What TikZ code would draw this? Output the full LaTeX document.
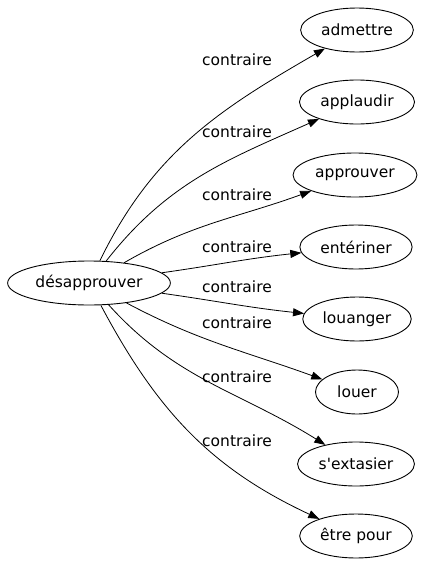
\documentclass[tikz,border=0pt]{standalone}
\usepackage{fontspec}
\setmainfont{DejaVu Sans}
\usepackage{tikz}
\usetikzlibrary{shapes.geometric, arrows.meta}

\begin{document}
\begin{tikzpicture}[x=1pt, y=-1pt,
    mot/.style={draw, ellipse, line width=0.9pt, inner xsep=4pt,
        minimum height=44pt, minimum width=83pt,
        font=\fontsize{15.5}{18}\selectfont},
    rel/.style={font=\fontsize{15.5}{18}\selectfont},
    lien/.style={draw, line width=0.8pt, -{Triangle[length=11pt, width=8pt]}}]
    \useasboundingbox (0,0) rectangle (429,563);
    \node[mot] (desapp) at (89,283) {désapprouver};
    \node[mot] (admettre) at (357,30) {admettre};
    \node[mot] (applaudir) at (357,102) {applaudir};
    \node[mot] (approuver) at (355,175) {approuver};
    \node[mot] (enteriner) at (356,247) {entériner};
    \node[mot] (louanger) at (357,319) {louanger};
    \node[mot] (louer) at (357,392) {louer};
    \node[mot] (extasier) at (356,464) {s\textquotesingle extasier};
    \node[mot] (etrepour) at (356,536) {être pour};
    \path[lien] (desapp) to[out=64, in=210] (admettre);
    \path[lien] (desapp) to[out=52, in=204] (applaudir);
    \path[lien] (desapp) to[out=30, in=200] (approuver);
    \path[lien] (desapp) to[out=8, in=186] (enteriner);
    \path[lien] (desapp) to[out=-8, in=174] (louanger);
    \path[lien] (desapp) to[out=-28, in=160] (louer);
    \path[lien] (desapp) to[out=-48, in=148] (extasier);
    \path[lien] (desapp) to[out=-62, in=155] (etrepour);
    \node[rel] (r1) at (237,60) {contraire};
    \node[rel] (r2) at (237,132) {contraire};
    \node[rel] (r3) at (237,195) {contraire};
    \node[rel] (r4) at (237,247) {contraire};
    \node[rel] (r5) at (237,287) {contraire};
    \node[rel] (r6) at (237,323) {contraire};
    \node[rel] (r7) at (237,377) {contraire};
    \node[rel] (r8) at (237,441) {contraire};
\end{tikzpicture}
\end{document}
